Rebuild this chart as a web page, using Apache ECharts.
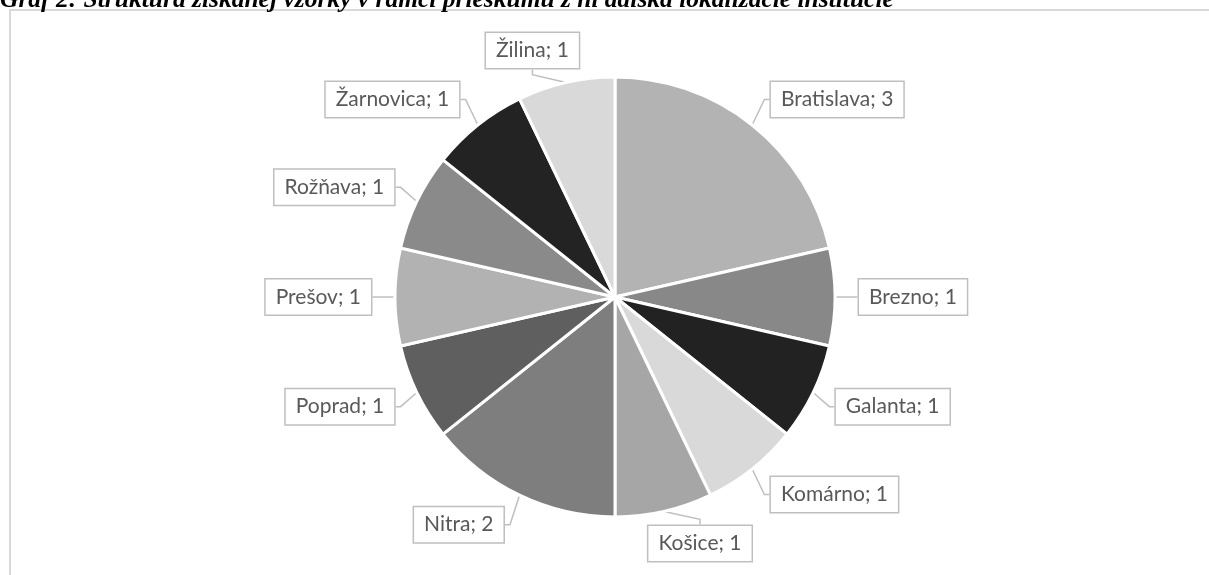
<!DOCTYPE html>
<html>
<head>
<meta charset="utf-8">
<script src="https://cdn.jsdelivr.net/npm/echarts@6/dist/echarts.min.js"></script>
<style>
  html, body { margin: 0; padding: 0; background: #fff; }
  #chart { width: 1209px; height: 575px; }
</style>
</head>
<body>
<div id="chart"></div>
<script>
// údaje grafu
const titleText = 'Graf 2: Štruktúra získanej vzorky v rámci prieskumu z hľadiska lokalizácie inštitúcie'
const cities = ['Bratislava', 'Brezno', 'Galanta', 'Komárno', 'Košice', 'Nitra', 'Poprad', 'Prešov', 'Rožňava', 'Žarnovica', 'Žilina']
const counts = [3, 1, 1, 1, 1, 2, 1, 1, 1, 1, 1]
const sliceColors = ['#b3b3b3', '#888888', '#222222', '#d9d9d9', '#a6a6a6', '#7e7e7e', '#5f5f5f', '#b2b2b2', '#8a8a8a', '#232323', '#d9d9d9']

const pieCenter = [615, 297]

const chart = echarts.init(document.getElementById('chart'))

const option = {
  animation: false,
  graphic: [
    {
      type: 'rect',
      shape: { x: 10, y: 10, width: 1400, height: 800 },
      style: { fill: 'none', stroke: '#d9d9d9', lineWidth: 2 },
      silent: true,
    },
    {
      type: 'text',
      x: 0,
      y: 13,
      style: {
        text: titleText,
        font: 'italic bold 25.5px "Liberation Serif"',
        fill: '#000',
        verticalAlign: 'bottom',
      },
      silent: true,
    },
  ],
  series: [
    {
      type: 'pie',
      center: pieCenter,
      radius: 220,
      startAngle: 90,
      clockwise: true,
      data: cities.map((name, i) => ({
        name: name,
        value: counts[i],
        itemStyle: { color: sliceColors[i] },
      })),
      itemStyle: {
        borderColor: '#fff',
        borderWidth: 3,
      },
      label: {
        show: true,
        position: 'outside',
        formatter: '{b}; {c}',
        fontFamily: 'Lato',
        fontSize: 21,
        color: '#595959',
        backgroundColor: '#fff',
        borderColor: '#bfbfbf',
        borderWidth: 1.5,
        padding: [7, 10],
      },
      labelLine: {
        show: true,
        length: 14,
        length2: 5,
        lineStyle: { color: '#bfbfbf', width: 1.5 },
      },
      // popisky trochu ďalej hore/dole, tie pri vrchole a spodku vycentrovať
      labelLayout: function (params) {
        const r = params.labelRect
        let cx = r.x + r.width / 2
        let cy = r.y + r.height / 2
        const side = cx > pieCenter[0] ? 1 : -1
        const end = params.labelLinePoints ? params.labelLinePoints[2] : [cx, cy]
        if (Math.abs(end[0] - pieCenter[0]) < 80) cx -= side * r.width * 0.27
        cy += (cy - pieCenter[1]) * 0.08
        return { x: cx, y: cy, align: 'center', verticalAlign: 'middle' }
      },
      emphasis: { disabled: true },
    },
  ],
}
chart.setOption(option)
</script>
</body>
</html>
